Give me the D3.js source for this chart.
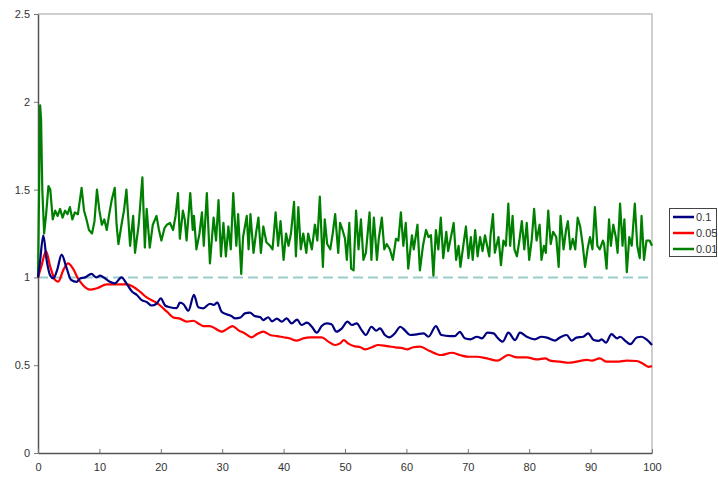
<!DOCTYPE html>
<html><head><meta charset="utf-8">
<script src="https://cdn.jsdelivr.net/npm/d3@7"></script>
<style>body{margin:0;background:#fff;font-family:"Liberation Sans",Arial,sans-serif;}</style>
</head><body><svg id="c" width="718" height="477"></svg>
<script>
const xTicks=[0,10,20,30,40,50,60,70,80,90,100];
const yTicks=[0,0.5,1,1.5,2,2.5];
const yTickLabels=["0","0.5","1","1.5","2","2.5"];
const seriesNames=["0.1","0.05","0.01"];
const seriesColors=["#000080","#ff0000","#008000"];
const refX=[0,100], refY=[1,1];

const blueX=[0,0.3,0.87,1.4,2.0,2.5,3.1,3.85,4.6,5.4,6.3,6.9,7.7,8.7,9.5,10.1,10.9,11.7,12.5,13.6,14.4,15.3,16.1,16.9,17.7,18.5,19.3,20.0,20.7,21.5,22.6,23.1,23.7,24.5,25.4,26.1,26.9,28.0,28.6,29.2,29.9,30.7,31.5,32.1,33.0,33.7,34.5,35.3,36.2,36.7,37.5,38.1,38.9,39.7,40.5,41.3,42.2,42.9,43.8,44.6,45.4,46.2,47.0,47.8,48.6,49.5,50.4,51.1,51.9,52.7,53.4,54.3,55.1,55.7,56.5,57.2,58.2,59.0,59.8,60.6,61.7,62.8,63.6,64.8,65.7,67.1,67.9,68.7,69.5,70.4,71.5,72.3,73.2,74.2,74.8,75.7,76.6,77.7,78.5,79.6,80.9,82.0,82.9,84.2,85.0,86.1,86.9,87.7,88.8,89.6,90.5,91.3,91.8,92.5,93.4,94.3,94.8,95.8,96.5,97.5,98.3,99.1,100];
const blueY=[1.0,1.08,1.24,1.10,1.01,0.995,1.04,1.13,1.06,0.985,0.975,0.995,1.0,1.02,1.0,1.01,0.995,0.975,0.966,1.0,0.966,0.92,0.90,0.87,0.86,0.84,0.85,0.88,0.84,0.83,0.825,0.856,0.847,0.81,0.90,0.83,0.824,0.85,0.843,0.856,0.805,0.79,0.78,0.767,0.772,0.795,0.799,0.78,0.773,0.757,0.773,0.75,0.765,0.748,0.767,0.738,0.76,0.729,0.742,0.719,0.685,0.723,0.738,0.733,0.691,0.71,0.748,0.729,0.738,0.70,0.672,0.719,0.697,0.71,0.672,0.659,0.685,0.719,0.697,0.672,0.676,0.681,0.662,0.723,0.672,0.666,0.666,0.69,0.653,0.647,0.662,0.653,0.685,0.681,0.658,0.634,0.685,0.643,0.685,0.662,0.647,0.662,0.657,0.64,0.658,0.672,0.64,0.657,0.662,0.681,0.643,0.638,0.647,0.628,0.677,0.653,0.662,0.634,0.62,0.658,0.662,0.647,0.615];

const redX=[0,0.6,1.3,2.0,2.8,3.3,4.1,4.9,5.7,6.5,7.3,8.5,9.6,11.2,12.8,14.4,15.5,16.6,17.7,19.3,21.0,22.1,23.1,24.2,25.3,26.1,26.9,28.0,28.8,29.9,30.7,31.7,32.6,33.7,34.8,35.7,36.7,37.8,38.9,40.0,41.0,42.1,43.2,44.3,45.4,46.2,47.3,48.4,49.2,49.8,50.5,51.4,52.5,53.3,54.4,55.4,56.8,58.2,59.5,60.1,61.1,62.2,63.8,65.7,67.4,68.7,70.1,71.5,73.1,74.8,76.6,78.0,79.6,81.2,82.6,83.4,85.0,86.4,87.7,89.4,90.2,91.5,92.6,94.3,95.9,97.5,98.6,99.4,100];
const redY=[1.0,1.07,1.15,1.06,0.985,0.976,1.04,1.08,1.05,0.995,0.957,0.93,0.938,0.96,0.96,0.96,0.947,0.919,0.886,0.856,0.805,0.771,0.765,0.748,0.753,0.738,0.723,0.723,0.71,0.691,0.704,0.723,0.70,0.681,0.659,0.678,0.691,0.672,0.666,0.659,0.653,0.64,0.653,0.659,0.659,0.659,0.634,0.615,0.624,0.643,0.624,0.609,0.602,0.59,0.602,0.615,0.609,0.602,0.596,0.59,0.602,0.606,0.581,0.558,0.571,0.558,0.548,0.548,0.539,0.526,0.558,0.545,0.545,0.533,0.539,0.526,0.52,0.514,0.52,0.53,0.526,0.539,0.52,0.52,0.526,0.524,0.507,0.491,0.495];

const greenX=[0,0.2,0.35,0.5,0.7,1.0,1.3,1.7,2.0,2.4,2.8,3.2,3.6,4.0,4.4,4.8,5.2,5.6,6.0,6.5,7.1,7.5,7.9,8.3,8.8,9.2,9.6,10.0,10.4,10.8,11.2,11.6,12.0,12.5,12.8,13.1,13.6,14.0,14.4,15.0,15.5,15.8,16.4,17.0,17.4,17.7,18.2,18.7,19.3,19.7,20.1,20.6,21.0,21.5,22.0,22.4,22.8,
23.1,23.6,23.9,24.2,24.8,25.2,25.4,25.8,26.3,26.7,27.0,27.5,28.0,28.6,29.0,29.4,29.8,30.2,30.6,31.0,31.4,31.8,32.3,32.6,33.1,33.4,34.0,34.3,34.6,35.1,35.5,35.9,36.3,36.7,37.2,37.8,38.2,38.7,39.1,39.5,40.0,40.4,40.8,41.2,41.7,42.0,42.4,42.8,43.2,43.7,44.0,44.6,45.1,45.5,45.9,46.4,46.7,47.1,47.6,48.0,48.4,48.9,
49.2,49.6,50.0,50.3,50.7,51.0,51.4,51.8,52.2,52.6,53.0,53.4,54.0,54.3,54.7,55.2,55.5,56.0,56.4,56.8,57.3,57.8,58.3,58.7,59.1,59.5,59.9,60.3,60.9,61.2,61.8,62.2,62.7,63.2,63.6,64.0,64.4,64.8,65.2,65.6,66.0,66.5,66.8,67.2,67.7,68.1,68.5,68.8,69.3,69.7,70.1,70.5,70.8,71.2,71.6,72.0,72.4,72.8,73.5,
73.7,74.1,74.4,75.0,75.4,75.8,76.2,76.6,76.9,77.3,77.6,78.0,78.4,78.8,79.2,79.6,80.0,80.4,80.8,81.2,81.7,82.0,82.4,82.7,83.1,83.5,83.9,84.4,84.8,85.1,85.6,86.0,86.3,86.7,87.1,87.5,87.9,88.3,88.7,89.1,89.5,89.9,90.3,90.7,91.1,91.5,92.0,92.2,92.6,93.0,93.3,93.7,94.1,94.4,94.8,95.2,95.5,95.9,96.3,96.7,97.2,97.6,98.0,98.3,98.7,99.1,99.6,100];
const greenY=[1.0,1.55,1.98,1.9,1.5,1.25,1.35,1.52,1.50,1.33,1.38,1.35,1.39,1.34,1.38,1.36,1.40,1.33,1.37,1.36,1.51,1.38,1.33,1.27,1.25,1.32,1.50,1.38,1.30,1.33,1.27,1.36,1.44,1.51,1.30,1.19,1.30,1.38,1.50,1.18,1.35,1.14,1.30,1.57,1.17,1.39,1.17,1.30,1.35,1.27,1.21,1.28,1.30,1.31,1.27,1.35,1.48,
1.22,1.38,1.33,1.21,1.48,1.27,1.35,1.16,1.25,1.37,1.18,1.48,1.08,1.34,1.21,1.44,1.12,1.31,1.12,1.29,1.16,1.48,1.18,1.36,1.02,1.23,1.35,1.16,1.36,1.14,1.25,1.34,1.14,1.29,1.20,1.18,1.16,1.37,1.18,1.32,1.10,1.25,1.18,1.25,1.43,1.12,1.40,1.16,1.25,1.14,1.25,1.16,1.30,1.21,1.46,1.06,1.33,1.19,1.16,1.25,1.36,1.14,
1.31,1.27,1.22,1.10,1.31,1.05,1.04,1.38,1.16,1.33,1.10,1.14,1.37,1.10,1.34,1.10,1.22,1.34,1.16,1.19,1.16,1.10,1.22,1.21,1.37,1.18,1.31,1.05,1.24,1.16,1.30,1.04,1.18,1.27,1.23,1.24,1.01,1.27,1.16,1.34,1.11,1.26,1.15,1.22,1.31,1.10,1.18,1.06,1.19,1.29,1.11,1.23,1.10,1.27,1.12,1.23,1.15,1.24,1.12,
1.24,1.36,1.14,1.23,1.07,1.21,1.18,1.42,1.18,1.35,1.16,1.12,1.21,1.32,1.16,1.31,1.10,1.21,1.39,1.21,1.30,1.10,1.18,1.14,1.38,1.19,1.26,1.23,1.06,1.35,1.16,1.27,1.32,1.16,1.22,1.16,1.34,1.29,1.19,1.06,1.16,1.23,1.16,1.40,1.18,1.16,1.21,1.19,1.05,1.33,1.18,1.30,1.23,1.14,1.42,1.18,1.33,1.03,1.23,1.18,1.42,1.18,1.11,1.35,1.10,1.21,1.21,1.18];

const svg=d3.select("#c");
const x=d3.scaleLinear().domain([0,100]).range([38,652]);
const y=d3.scaleLinear().domain([0,2.5]).range([453,14]);

// plot border (top/right)
svg.append("path").attr("d",`M${x(0)},${y(2.5)}H${x(100)}V${y(0)}`)
  .attr("fill","none").attr("stroke","#c0c0c0").attr("stroke-width",1.5);

// reference dashed line
svg.append("path").datum(refX.map((v,i)=>[v,refY[i]]))
  .attr("d",d3.line().x(d=>x(d[0])).y(d=>y(d[1])))
  .attr("fill","none").attr("stroke","#99cccc").attr("stroke-width",2).attr("stroke-dasharray","10,5");

const ya=svg.append("g").attr("transform",`translate(${x(0)},0)`)
  .call(d3.axisLeft(y).tickValues(yTicks).tickFormat((d,i)=>yTickLabels[i]).tickSizeInner(4).tickSizeOuter(0).tickPadding(4));
const xa=svg.append("g").attr("transform",`translate(0,${y(0)})`)
  .call(d3.axisBottom(x).tickValues(xTicks).tickSizeInner(-4).tickSizeOuter(0).tickPadding(10));
[ya,xa].forEach(g=>{
  g.select(".domain").attr("stroke","#555").attr("stroke-width",1.5);
  g.selectAll(".tick line").attr("stroke","#777");
  g.selectAll("text").attr("font-family","Liberation Sans, Arial, sans-serif").attr("font-size",11).attr("fill","#333");
});

const line=d3.line().x(d=>x(d[0])).y(d=>y(d[1]));
const sData=[
  blueX.map((v,i)=>[v,blueY[i]]),
  redX.map((v,i)=>[v,redY[i]]),
  greenX.map((v,i)=>[v,greenY[i]])
];
[2,1,0].forEach(k=>{
  svg.append("path").datum(sData[k])
    .attr("d",(k===2?line.curve(d3.curveLinear):line.curve(d3.curveMonotoneX)))
    .attr("fill","none").attr("stroke",seriesColors[k]).attr("stroke-width",2.2)
    .attr("stroke-linejoin","round");
});

// legend
const lg=svg.append("g");
lg.append("rect").attr("x",669.5).attr("y",208.5).attr("width",47).attr("height",48)
  .attr("fill","#fff").attr("stroke","#444").attr("stroke-width",1);
seriesNames.forEach((n,i)=>{
  const yy=217+i*16;
  lg.append("line").attr("x1",673).attr("x2",694).attr("y1",yy).attr("y2",yy)
    .attr("stroke",seriesColors[i]).attr("stroke-width",2.5);
  lg.append("text").attr("x",696).attr("y",yy+4).text(n)
    .attr("font-family","Liberation Sans, Arial, sans-serif").attr("font-size",11).attr("fill","#333");
});
</script></body></html>
